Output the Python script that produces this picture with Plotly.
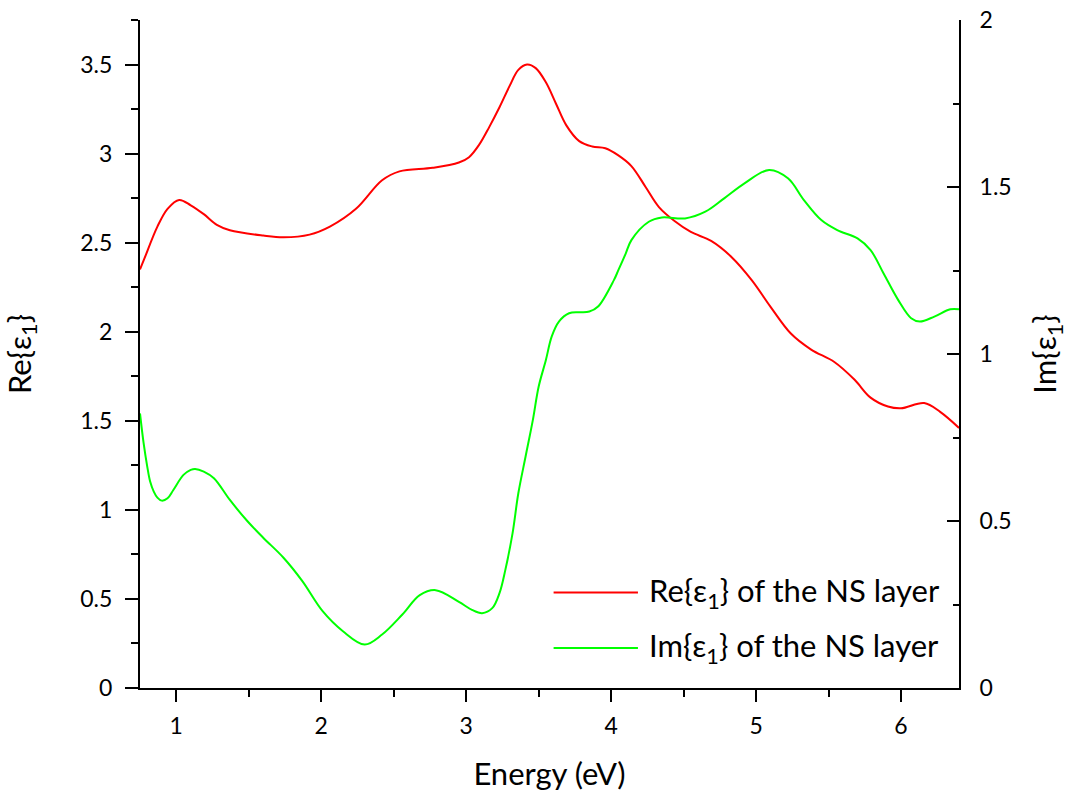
import plotly.graph_objects as go

# Photon energy grid and real part of the permittivity of the NS layer
energy_re = [0.75, 0.78, 0.87, 0.94, 1.02, 1.10, 1.19, 1.28, 1.37, 1.60, 1.74, 1.92,
             2.06, 2.24, 2.42, 2.54, 2.77, 2.95, 3.02, 3.09, 3.16, 3.23, 3.30, 3.36,
             3.42, 3.48, 3.55, 3.62, 3.69, 3.78, 3.87, 3.96, 4.05, 4.14, 4.24, 4.33,
             4.44, 4.55, 4.69, 4.83, 4.97, 5.10, 5.24, 5.38, 5.54, 5.68, 5.79, 5.91,
             6.00, 6.16, 6.27, 6.40]
re_eps = [2.35, 2.41, 2.59, 2.69, 2.74, 2.71, 2.66, 2.60, 2.57, 2.54, 2.53, 2.545,
          2.59, 2.69, 2.85, 2.90, 2.92, 2.95, 2.98, 3.05, 3.15, 3.26, 3.38, 3.47,
          3.50, 3.48, 3.40, 3.28, 3.16, 3.07, 3.04, 3.03, 2.99, 2.93, 2.81, 2.70,
          2.62, 2.56, 2.51, 2.42, 2.29, 2.14, 1.99, 1.90, 1.83, 1.73, 1.63, 1.58,
          1.57, 1.60, 1.55, 1.46]

# Imaginary part of the permittivity of the NS layer
energy_im = [0.75, 0.775, 0.80, 0.82, 0.845, 0.87, 0.90, 0.94, 0.98, 1.05, 1.10, 1.13,
             1.19, 1.26, 1.37, 1.49, 1.60, 1.74, 1.87, 2.01, 2.15, 2.30, 2.42, 2.56,
             2.68, 2.79, 2.95, 3.04, 3.11, 3.18, 3.23, 3.27, 3.32, 3.36, 3.41, 3.46,
             3.50, 3.55, 3.59, 3.64, 3.71, 3.78, 3.85, 3.91, 4.02, 4.05, 4.10, 4.14,
             4.26, 4.35, 4.51, 4.65, 4.78, 4.92, 5.09, 5.22, 5.33, 5.45, 5.56, 5.70,
             5.79, 5.88, 5.98, 6.07, 6.13, 6.23, 6.34, 6.40]
im_eps = [0.822, 0.733, 0.663, 0.618, 0.588, 0.570, 0.561, 0.568, 0.593, 0.638, 0.653, 0.656,
          0.648, 0.628, 0.563, 0.50, 0.45, 0.39, 0.32, 0.23, 0.17, 0.13, 0.16, 0.22,
          0.278, 0.293, 0.258, 0.234, 0.224, 0.239, 0.284, 0.353, 0.463, 0.583, 0.693, 0.802,
          0.902, 0.982, 1.052, 1.097, 1.122, 1.125, 1.127, 1.142, 1.222, 1.251, 1.30, 1.341,
          1.396, 1.409, 1.406, 1.426, 1.466, 1.511, 1.551, 1.526, 1.461, 1.401, 1.371, 1.346,
          1.311, 1.241, 1.162, 1.107, 1.097, 1.112, 1.134, 1.134]

series_names = ["Re{ε<sub>1</sub>} of the NS layer", "Im{ε<sub>1</sub>} of the NS layer"]
series_colors = ["#ff0000", "#00ff00"]

FONT = "Lato, 'Open Sans', sans-serif"
TICK_SIZE = 23
TITLE_SIZE = 31

fig = go.Figure()
fig.add_trace(go.Scatter(x=energy_re, y=re_eps, mode="lines", name=series_names[0],
                         line=dict(color=series_colors[0], width=2, shape="spline", smoothing=1.0),
                         yaxis="y"))
fig.add_trace(go.Scatter(x=energy_im, y=im_eps, mode="lines", name=series_names[1],
                         line=dict(color=series_colors[1], width=2, shape="spline", smoothing=1.0),
                         yaxis="y2"))

axis_common = dict(showline=True, linecolor="black", linewidth=2, showgrid=False,
                   zeroline=False, tickcolor="black", tickwidth=2, automargin=False,
                   tickfont=dict(family=FONT, size=TICK_SIZE, color="black"))

fig.update_layout(
    width=1068, height=800,
    margin=dict(l=140, r=109, t=20, b=112),
    paper_bgcolor="white", plot_bgcolor="white",
    showlegend=False,
    xaxis=dict(range=[0.75, 6.4], dtick=1, tick0=0, ticks="outside", ticklen=12,
               ticklabelstandoff=4,
               minor=dict(dtick=0.5, tick0=0, ticks="outside", ticklen=7,
                          tickwidth=2, tickcolor="black"),
               title=dict(text="Energy (eV)", standoff=26,
                          font=dict(family=FONT, size=TITLE_SIZE, color="black")),
               **axis_common),
    yaxis=dict(range=[0, 3.75], dtick=0.5, tick0=0, ticks="outside", ticklen=13,
               ticklabelstandoff=8,
               minor=dict(dtick=0.25, tick0=0, ticks="outside", ticklen=7,
                          tickwidth=2, tickcolor="black"),
               title=dict(text="Re{ε<sub>1</sub>}", standoff=40,
                          font=dict(family=FONT, size=TITLE_SIZE, color="black")),
               **axis_common),
    yaxis2=dict(range=[0, 2], dtick=0.5, tick0=0, ticks="inside", ticklen=12,
                ticklabelstandoff=14,
                overlaying="y", side="right",
                minor=dict(dtick=0.25, tick0=0, ticks="inside", ticklen=6,
                           tickwidth=2, tickcolor="black"),
                title=dict(text="Im{ε<sub>1</sub>}", standoff=36,
                           font=dict(family=FONT, size=TITLE_SIZE, color="black")),
                **axis_common),
)

# Legend drawn as line samples with labels in the lower right of the plot area
legend_rows = [0.143, 0.060]
for name, color, yrow in zip(series_names, series_colors, legend_rows):
    fig.add_shape(type="line", xref="paper", yref="paper",
                  x0=0.505, x1=0.608, y0=yrow, y1=yrow,
                  line=dict(color=color, width=2))
    fig.add_annotation(xref="paper", yref="paper", x=0.619, y=yrow,
                       xanchor="left", yanchor="middle", showarrow=False,
                       text=name, font=dict(family=FONT, size=TITLE_SIZE, color="black"))

fig.write_html("out.html")
